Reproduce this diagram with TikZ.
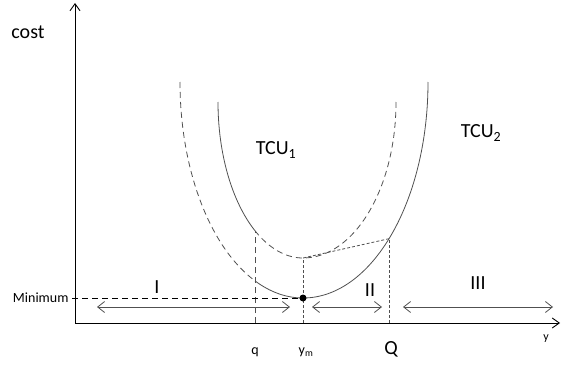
\documentclass[tikz,border=0pt]{standalone}
\usepackage{fontspec}
\setmainfont{Carlito}
\usepackage{tikz}
\usetikzlibrary{calc, arrows.meta}
\definecolor{curvegray}{HTML}{505050}
\newcommand{\fsBig}{\fontsize{20}{24}\selectfont}
\newcommand{\fsMid}{\fontsize{14}{17}\selectfont}
\newcommand{\fsTiny}{\fontsize{12}{14}\selectfont}

\begin{document}
\begin{tikzpicture}[x=1pt, y=1pt,
    axis/.style={line width=0.9pt, -{Straight Barb[length=7pt, width=10pt]}},
    costline/.style={curvegray, line width=0.8pt},
    longdash/.style={dash pattern=on 6pt off 4pt},
    shortdash/.style={dash pattern=on 3pt off 2pt},
    span/.style={curvegray, line width=0.8pt,
      {Straight Barb[length=7pt, width=11pt]}-{Straight Barb[length=7pt, width=11pt]}}]
  \useasboundingbox (0,0) rectangle (564,365);
  \def\AxX{75}\def\AxY{42}\def\Lvl{58}
  \coordinate (O) at (\AxX,\AxY);
  \coordinate (Ytop) at (\AxX,362);
  \coordinate (Xend) at (560,\AxY);
  \draw[axis] (O) -- (Ytop);
  \draw[axis] (O) -- (Xend);
  \node[font=\fsBig] (costlab) at (28,333) {cost};
  % wide curve, lower minimum
  \draw[costline, longdash] (180,283)
    arc[start angle=180, end angle=247, x radius=123pt, y radius=216pt] coordinate (Aq);
  \draw[costline] (Aq)
    arc[start angle=247, end angle=270, x radius=123pt, y radius=216pt] coordinate (Amin)
    arc[start angle=270, end angle=360, x radius=125pt, y radius=216pt];
  \coordinate (AQ) at ($(303,283)+(313.5:125pt and 216pt)$);
  % narrow curve, higher minimum
  \draw[costline] (218,263)
    arc[start angle=180, end angle=235.6, x radius=85pt, y radius=156pt] coordinate (Bq);
  \draw[costline, longdash] (Bq)
    arc[start angle=235.6, end angle=270, x radius=85pt, y radius=156pt] coordinate (Bmin)
    arc[start angle=270, end angle=360, x radius=93pt, y radius=156pt];
  \node[font=\fsBig] (tcuone) at (276,215) {TCU\textsubscript{1}};
  \node[font=\fsBig] (tcutwo) at (481,232) {TCU\textsubscript{2}};
  % guide lines
  \coordinate (qfoot) at (Bq |- O);
  \coordinate (ymfoot) at (Bmin |- O);
  \coordinate (Qfoot) at (AQ |- O);
  \draw[costline, longdash] (qfoot) -- (Bq);
  \draw[costline, shortdash] (ymfoot) -- (Bmin);
  \draw[costline, shortdash] (Qfoot) -- (AQ);
  \draw[costline, shortdash] (AQ) -- (Bmin);
  \node[font=\fsMid, anchor=east] (minlab) at ($(O |- Amin)+(-3,0)$) {Minimum};
  \draw[longdash, line width=0.7pt] (minlab.east) -- (Amin);
  \fill (Amin) circle (3.5pt);
  % regions
  \foreach \n/\a/\b/\lab/\lx/\ly in {1/97/290/I/157/78, 2/312/382/II/370/75, 3/403/553/III/478/82}{
    \coordinate (s\n L) at (\a,\Lvl);
    \coordinate (s\n R) at (\b,\Lvl);
    \draw[span] (s\n L) -- (s\n R);
    \node[font=\fsBig] (reg\n) at (\lx,\ly) {\lab};
  }
  \node[font=\fsMid] (qlab) at (255,13) {q};
  \node[font=\fsMid] (ymlab) at (306,13) {y\textsubscript{m}};
  \node[font=\fsBig] (Qlab) at (391,16) {Q};
  \node[font=\fsTiny] (ylab) at (546,26) {y};
\end{tikzpicture}
\end{document}
